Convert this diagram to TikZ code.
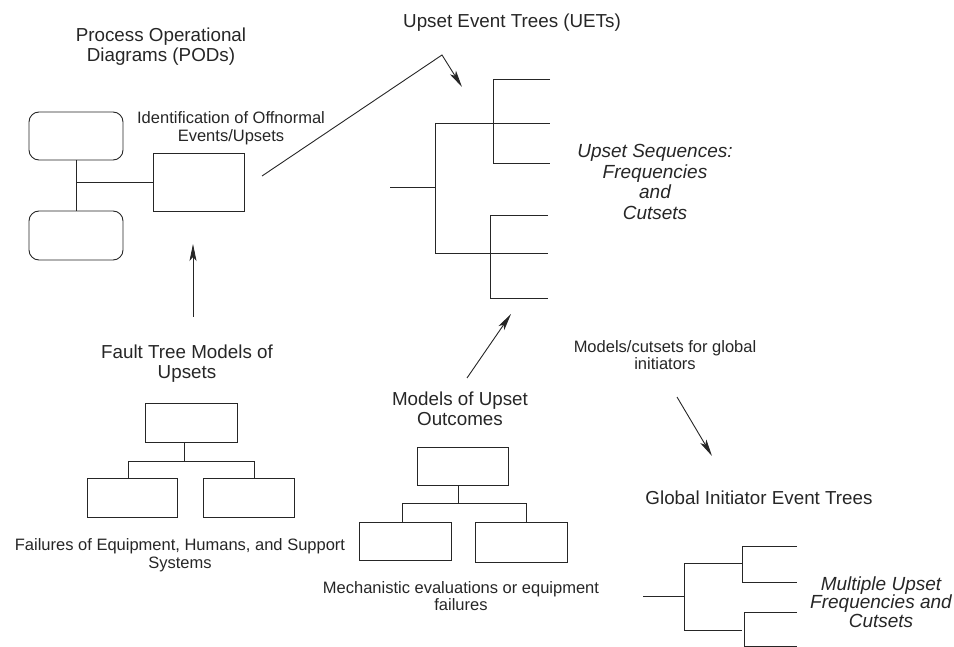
\documentclass[tikz,border=0pt]{standalone}
\usepackage{fontspec}
\setmainfont{Liberation Sans}
\usetikzlibrary{arrows.meta}
\begin{document}
\begin{tikzpicture}[x=1pt,y=-1pt,
  ln/.style={line width=0.9pt, draw=black!85},
  box/.style={ln, rectangle, inner sep=0pt},
  rbox/.style={box, rounded corners=10pt},
  arr/.style={ln, -{Stealth[length=17pt,width=7pt,inset=4pt]}},
  ttl/.style={align=center, inner sep=0pt, text=black!85,
    font=\fontsize{18.8}{20}\selectfont},
  lbl/.style={align=center, inner sep=0pt, text=black!85,
    font=\fontsize{16.5}{17.5}\selectfont},
  res/.style={align=center, inner sep=0pt, text=black!85,
    font=\fontsize{19}{20.5}\selectfont\itshape},
]
\useasboundingbox (0,0) rectangle (954,647);

% ---------- Process operational diagrams ----------
\node[ttl] (podT) at (161,47) {Process Operational\\Diagrams (PODs)};
\node[rbox, minimum width=94pt, minimum height=48pt] (pod1) at (76,136) {};
\node[rbox, minimum width=94pt, minimum height=49pt] (pod2) at (76,235.5) {};
\node[box, minimum width=91pt, minimum height=58pt] (ident) at (198.5,182) {};
\node[lbl] (identT) at (231,128) {Identification of Offnormal\\Events/Upsets};
\draw[ln] (pod1.south) -- (pod2.north);
\draw[ln] (ident.west) -- (ident.west -| pod1.south);

% ---------- Upset event trees ----------
\node[ttl] (uetT) at (512,23) {Upset Event Trees (UETs)};
\coordinate (uetStem) at (390,187);
\coordinate (uetA) at (435,123);
\coordinate (uetB) at (435,253);
\draw[ln] (uetStem) -- (uetStem -| uetA);
\draw[ln] (uetA) -- (uetB);
\draw[ln] (uetA) -- (550,123);
\draw[ln] (uetB) -- (548,253);
\draw[ln] (550,79) -- (493,79) -- (493,163) -- (550,163);
\draw[ln] (548,215) -- (490,215) -- (490,298) -- (548,298);
\node[res] (seqT) at (655,182) {Upset Sequences:\\Frequencies\\and\\Cutsets};

% link from the POD stage to the event trees
\coordinate (podOut) at (262,176);
\coordinate (bend) at (442,55);
\coordinate (uetIn) at (462,87);
\draw[arr] (podOut) -- (bend) -- (uetIn);

% ---------- Fault tree models ----------
\node[ttl] (ftT) at (187,364) {Fault Tree Models of\\Upsets};
\node[box, minimum width=92pt, minimum height=39pt] (ft) at (191,422.5) {};
\node[box, minimum width=90pt, minimum height=39pt] (ftl) at (132,497.5) {};
\node[box, minimum width=91pt, minimum height=39pt] (ftr) at (248.5,497.5) {};
\draw[ln] ([xshift=-7pt]ft.south) -- ++(0,19) coordinate (ftJ);
\draw[ln] ([xshift=-4pt]ftl.north) |- (ftJ) -| ([xshift=5.5pt]ftr.north);
\node[lbl] (failT) at (180,555) {Failures of Equipment, Humans, and Support\\Systems};
\coordinate (ftOut) at (193,317);
\coordinate (identIn) at (193,244);
\draw[arr] (ftOut) -- (identIn);

% ---------- Models of upset outcomes ----------
\node[ttl] (moT) at (460,409) {Models of Upset\\Outcomes};
\node[box, minimum width=91pt, minimum height=38pt] (mo) at (462.5,466) {};
\node[box, minimum width=92pt, minimum height=38pt] (mol) at (405,541) {};
\node[box, minimum width=92pt, minimum height=40pt] (mor) at (521,542) {};
\draw[ln] ([xshift=-4.5pt]mo.south) -- ++(0,18) coordinate (moJ);
\draw[ln] ([xshift=-3pt]mol.north) |- (moJ) -| ([xshift=5pt]mor.north);
\node[lbl] (mechT) at (461,596) {Mechanistic evaluations or equipment\\failures};
\coordinate (moOut) at (467,378);
\coordinate (uetIn2) at (511,314);
\draw[arr] (moOut) -- (uetIn2);

% ---------- Global initiator event trees ----------
\node[lbl] (glmT) at (665,355) {Models/cutsets for global\\initiators};
\coordinate (glmOut) at (677,397);
\coordinate (giIn) at (712,456);
\draw[arr] (glmOut) -- (giIn);
\node[ttl] (giT) at (759,498) {Global Initiator Event Trees};
\coordinate (giStem) at (643,596);
\coordinate (giA) at (684,563);
\coordinate (giB) at (684,630);
\draw[ln] (giStem) -- (giStem -| giA);
\draw[ln] (giA) -- (giB);
\draw[ln] (giA) -- (742,563);
\draw[ln] (giB) -- (742,630);
\draw[ln] (797,546) -- (742,546) -- (742,582) -- (797,582);
\draw[ln] (797,612) -- (744,612) -- (744,646) -- (797,646);
\node[res, font=\fontsize{19}{18.5}\selectfont\itshape] (mulT) at (881,602)
  {Multiple Upset\\Frequencies and\\Cutsets};
\end{tikzpicture}
\end{document}
